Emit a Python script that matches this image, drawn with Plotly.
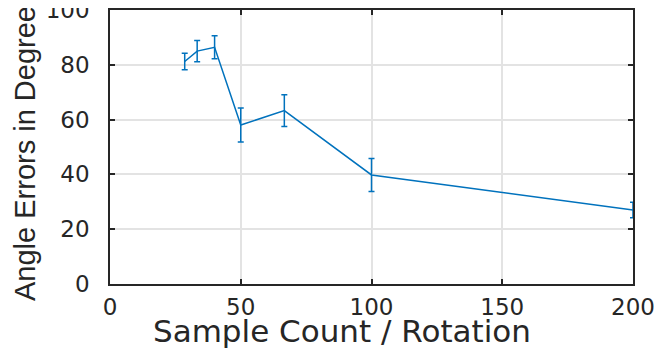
import plotly.graph_objects as go

sample_count = [200/7, 200/6, 200/5, 200/4, 200/3, 200/2, 200/1]
angle_error = [81.2, 85.0, 86.4, 58.0, 63.3, 39.8, 27.0]
error_half = [3.0, 3.9, 4.2, 6.2, 5.8, 6.0, 2.8]

x_ticks = [0, 50, 100, 150, 200]
y_ticks = [0, 20, 40, 60, 80, 100]
x_title = "Sample Count / Rotation"
y_title = "Angle Errors in Degree"

fig = go.Figure()
fig.add_trace(go.Scatter(
    x=sample_count, y=angle_error, mode="lines",
    line=dict(color="#0072BD", width=1.5),
    error_y=dict(type="data", array=error_half, visible=True,
                 color="#0072BD", thickness=1.5, width=3),
    showlegend=False,
))

font_color = "#262626"
tick_font = dict(size=23, color=font_color, family="DejaVu Sans, sans-serif")
fig.update_layout(
    width=656, height=341,
    margin=dict(l=102, r=31, t=2, b=65),
    paper_bgcolor="white", plot_bgcolor="white",
    font=dict(family="DejaVu Sans, sans-serif", color=font_color),
)
fig.update_xaxes(
    range=[0, 200], tickvals=x_ticks, ticktext=[str(v) for v in x_ticks],
    showgrid=True, gridcolor="#e3e3e3", gridwidth=1.5,
    showline=True, linecolor="#262626", linewidth=1.5, mirror="ticks",
    ticks="inside", ticklen=5, tickcolor="#262626", tickwidth=1.5,
    tickfont=tick_font, zeroline=False, ticklabeloverflow="allow",
    ticklabelstandoff=2, automargin=False,
)
fig.update_yaxes(
    range=[0, 100], tickvals=y_ticks, ticktext=[str(v) for v in y_ticks],
    showgrid=True, gridcolor="#e3e3e3", gridwidth=1.5,
    showline=True, linecolor="#262626", linewidth=1.5, mirror="ticks",
    ticks="inside", ticklen=5, tickcolor="#262626", tickwidth=1.5,
    tickfont=tick_font, zeroline=False, ticklabeloverflow="allow",
    ticklabelstandoff=14, automargin=False,
)
fig.add_annotation(
    text=y_title, xref="paper", yref="paper", x=0, y=0.4745,
    xanchor="center", yanchor="middle", xshift=-85, textangle=-90,
    showarrow=False,
    font=dict(size=29, color=font_color,
              family="Liberation Sans Narrow, Arial Narrow, sans-serif"),
)
fig.add_annotation(
    text=x_title, xref="paper", yref="paper", x=0.4436, y=-0.17,
    xanchor="center", yanchor="middle", showarrow=False,
    font=dict(size=31, color=font_color, family="DejaVu Sans, sans-serif"),
)

fig.write_html("out.html")
